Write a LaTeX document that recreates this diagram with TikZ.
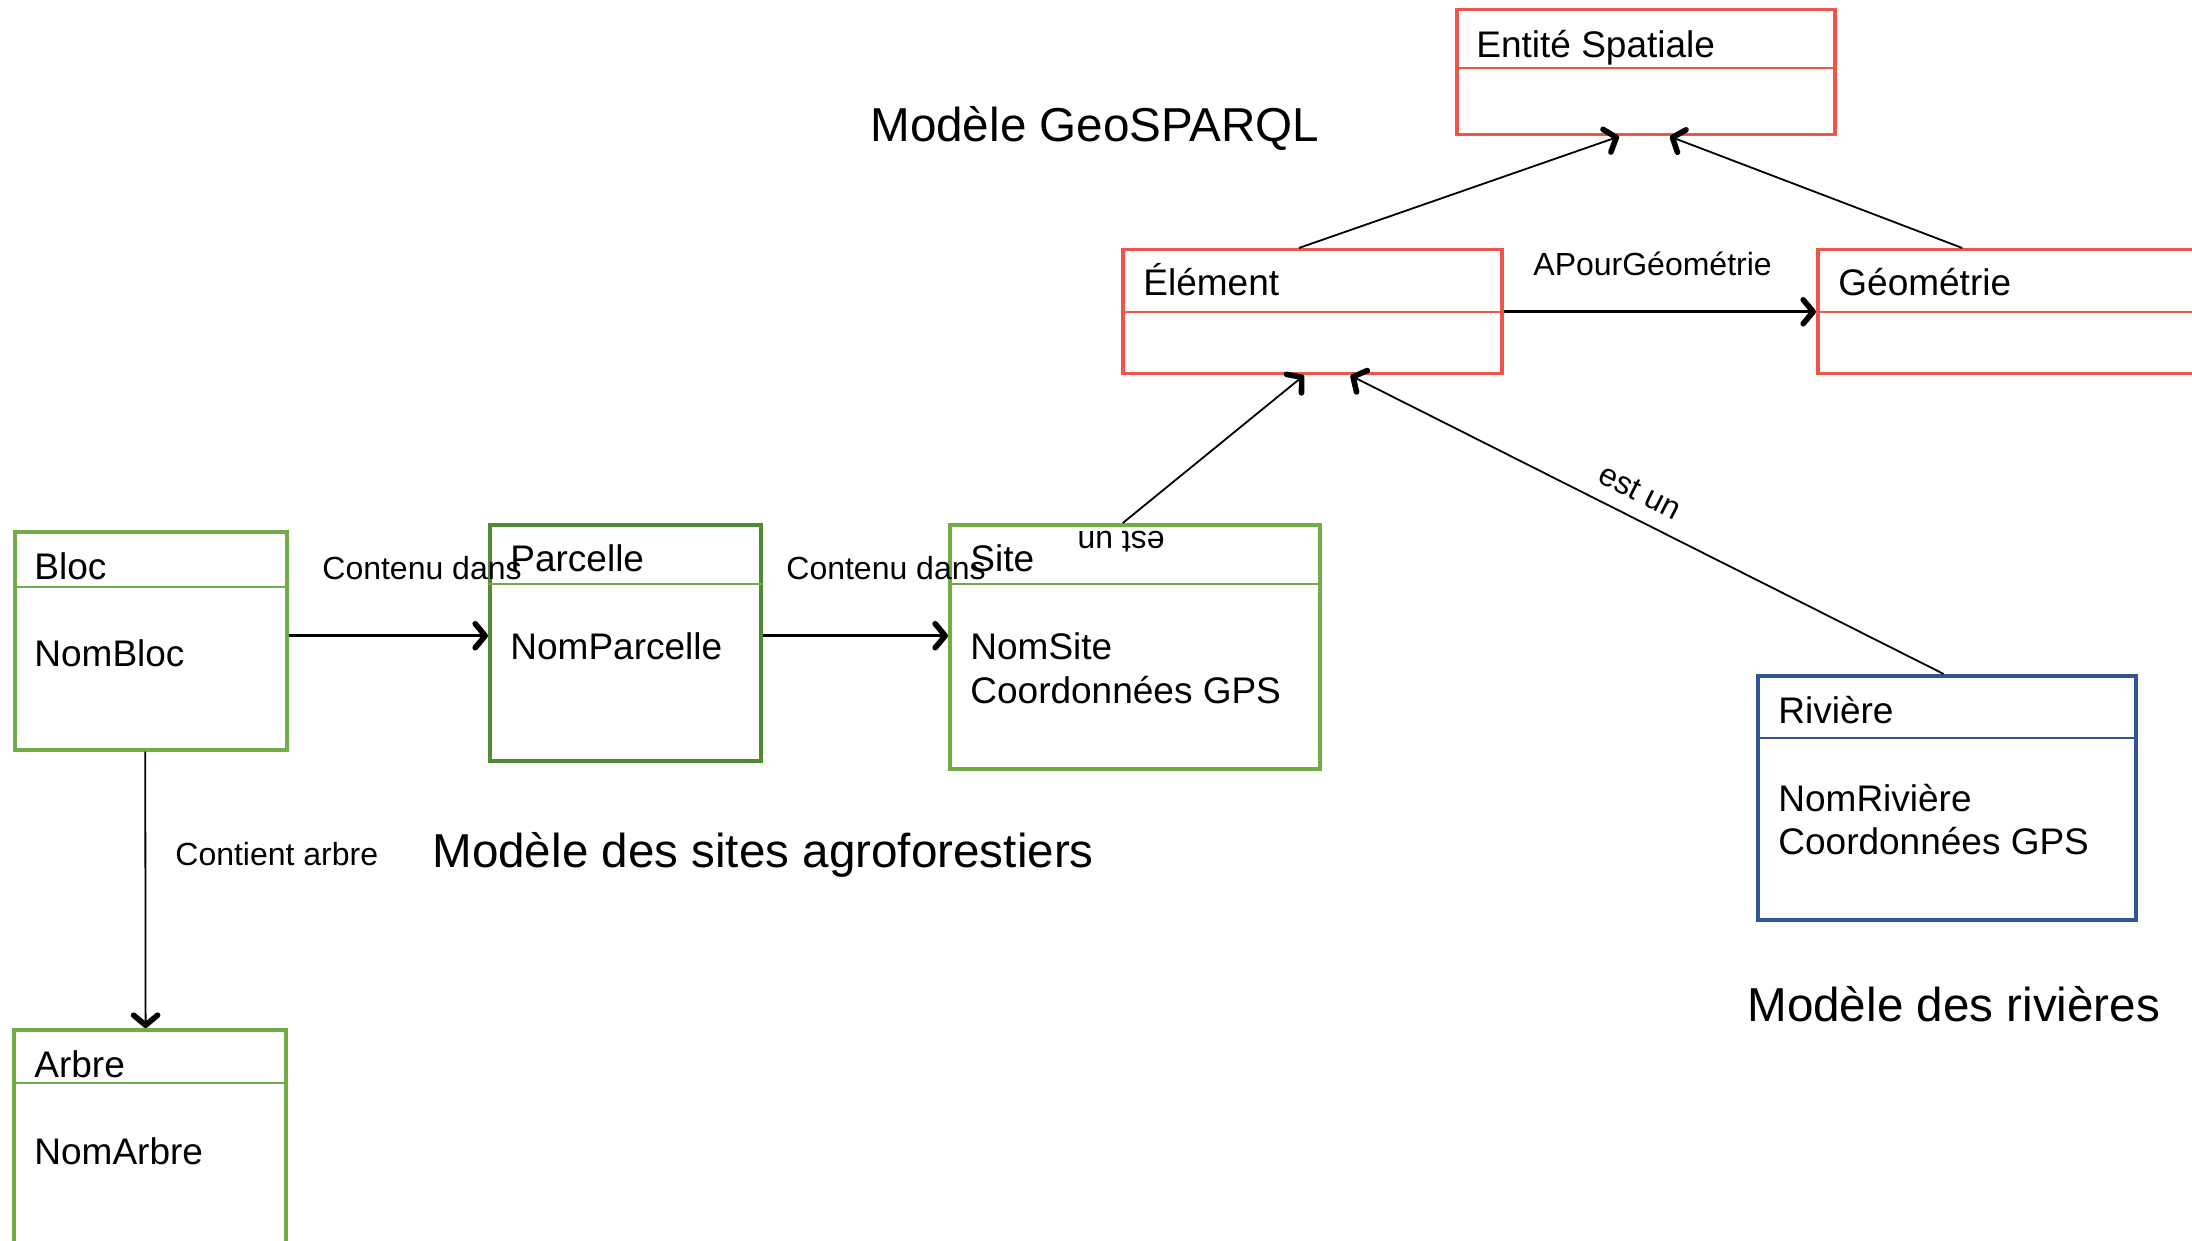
\documentclass[tikz,border=0pt]{standalone}
\usepackage{fontspec}
\setmainfont{Liberation Sans}
\usetikzlibrary{arrows.meta,calc}
\definecolor{cred}{RGB}{238,86,76}
\definecolor{cgreen}{RGB}{112,173,71}
\definecolor{cdgreen}{RGB}{80,138,52}
\definecolor{cblue}{RGB}{47,85,151}
\tikzset{
  box/.style={draw, line width=1.75pt, inner sep=0pt, anchor=north west},
  divline/.style={line width=0.6pt},
  ttl/.style={inner sep=0pt, anchor=base west, font=\fontsize{18.5}{22}\selectfont},
  lbl/.style={inner sep=0pt, anchor=base west, font=\fontsize{16}{19}\selectfont},
  big/.style={inner sep=0pt, anchor=base west, font=\fontsize{23.8}{28}\selectfont},
  tip/.tip={Straight Barb[length=5pt,width=12pt,line width=2.8pt,round]},
  conn/.style={line width=0.9pt, -tip},
  hconn/.style={line width=1.4pt, -tip}
}
\begin{document}
\begin{tikzpicture}[x=0.5pt,y=-0.5pt]
\useasboundingbox (0,0) rectangle (2192,1241);
\clip (0,0) rectangle (2192,1241);

% GeoSPARQL model
\node[box, draw=cred, minimum width=189pt, minimum height=62.5pt] (ent) at (1455,8) {};
\draw[divline, cred] ([yshift=-30pt]ent.north west) -- ([yshift=-30pt]ent.north east);
\node[ttl] (entT) at (1476,58) {Entité Spatiale};

\node[box, draw=cred, minimum width=189.5pt, minimum height=62pt] (elem) at (1121,248) {};
\draw[divline, cred] ([yshift=-32pt]elem.north west) -- ([yshift=-32pt]elem.north east);
\node[ttl] (elemT) at (1143,296) {Élément};

\node[box, draw=cred, minimum width=200pt, minimum height=62pt] (geo) at (1816,248) {};
\draw[divline, cred] ([yshift=-32pt]geo.north west) -- ([yshift=-32pt]geo.north east);
\node[ttl] (geoT) at (1838,296) {Géométrie};

\node[lbl] (apg) at (1533,276) {APourGéométrie};
\node[big] (geosparql) at (870,142) {Modèle GeoSPARQL};

% agroforestry model
\node[box, draw=cgreen, minimum width=136pt, minimum height=109pt] (bloc) at (13,530) {};
\draw[divline, cgreen] ([yshift=-28.5pt]bloc.north west) -- ([yshift=-28.5pt]bloc.north east);
\node[ttl] (blocT) at (34,579) {Bloc};
\node[ttl] (blocA) at (34,666) {NomBloc};

\node[box, draw=cdgreen, minimum width=135.5pt, minimum height=118pt] (parc) at (488,523) {};
\draw[divline, cgreen] ([yshift=-30.5pt]parc.north west) -- ([yshift=-30.5pt]parc.north east);
\node[ttl] (parcT) at (510,571) {Parcelle};
\node[ttl] (parcA) at (510,659) {NomParcelle};

\node[box, draw=cgreen, minimum width=185pt, minimum height=122pt] (site) at (948,523) {};
\draw[divline, cgreen] ([yshift=-30.5pt]site.north west) -- ([yshift=-30.5pt]site.north east);
\node[ttl] (siteT) at (970,571) {Site};
\node[ttl] (siteA) at (970,659) {NomSite};
\node[ttl] (siteB) at (970,703) {Coordonnées GPS};

\node[box, draw=cgreen, minimum width=136pt, minimum height=120pt] (arbre) at (12,1028) {};
\draw[divline, cgreen] ([yshift=-27.5pt]arbre.north west) -- ([yshift=-27.5pt]arbre.north east);
\node[ttl] (arbreT) at (34,1077) {Arbre};
\node[ttl] (arbreA) at (34,1164) {NomArbre};

\node[lbl] (cd1) at (322,579) {Contenu dans};
\node[lbl] (cd2) at (786,579) {Contenu dans};
\node[lbl] (ca) at (175,865) {Contient arbre};
\node[big] (agro) at (432,867) {Modèle des sites agroforestiers};

% river model
\node[box, draw=cblue, minimum width=189pt, minimum height=122pt] (riv) at (1756,674) {};
\draw[divline, cblue] ([yshift=-32pt]riv.north west) -- ([yshift=-32pt]riv.north east);
\node[ttl] (rivT) at (1778,723) {Rivière};
\node[ttl] (rivA) at (1778,811) {NomRivière};
\node[ttl] (rivB) at (1778,854) {Coordonnées GPS};
\node[big] (rivM) at (1747,1021) {Modèle des rivières};

% labels on is-a links
\node[inner sep=0pt, font=\fontsize{16}{19}\selectfont, rotate=180] (estun1) at (1121,542) {est un};
\node[inner sep=0pt, font=\fontsize{16}{19}\selectfont, rotate=-27] (estun2) at (1640,492) {est un};

% connectors
\draw[conn] ($(elem.north west)!0.465!(elem.north east)$) -- ($(ent.south west)!0.43!(ent.south east)$);
\draw[conn] ($(geo.north west)!0.3625!(geo.north east)$) -- ($(ent.south west)!0.563!(ent.south east)$);
\draw[hconn] (elem.east) -- (geo.west);
\draw[hconn] ([yshift=2.5pt]bloc.east) -- ([yshift=2.5pt]bloc.east -| parc.west);
\draw[hconn] ([yshift=3.5pt]parc.east) -- ([yshift=3.5pt]parc.east -| site.west);
\draw[conn] ($(site.north west)!0.468!(site.north east)$) -- ($(elem.south west)!0.478!(elem.south east)$);
\draw[conn] ($(riv.north west)!0.492!(riv.north east)$) -- ($(elem.south west)!0.60!(elem.south east)$);
\draw[conn] ($(bloc.south west)!0.48!(bloc.south east)$) -- ($(arbre.north west)!0.485!(arbre.north east)$);
\end{tikzpicture}
\end{document}
